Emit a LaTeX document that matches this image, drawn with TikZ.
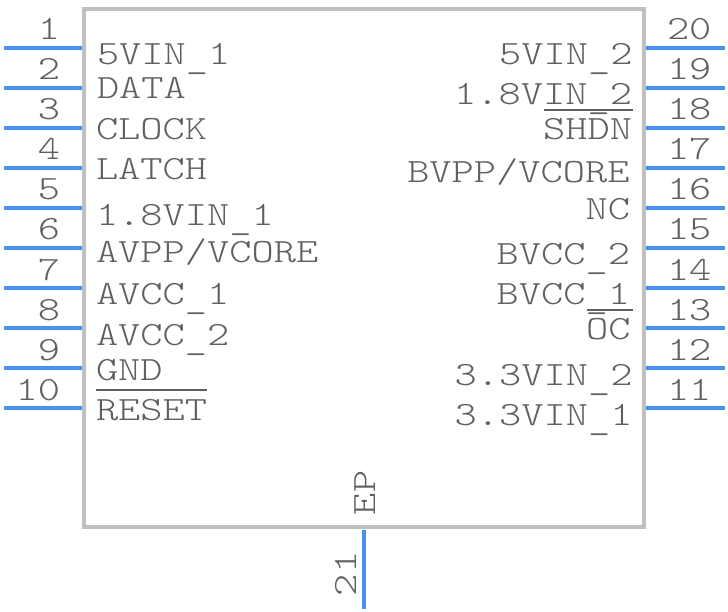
\documentclass[tikz,border=0pt]{standalone}
\usepackage{fontspec}
\newfontfamily\pinfont[FakeStretch=1.245]{Latin Modern Mono Light}
\newcommand\lowbar{\raisebox{-4pt}{\_}}
\definecolor{txtgrey}{HTML}{606060}
\definecolor{boxgrey}{HTML}{BFBFBF}
\definecolor{pinblue}{HTML}{4A90F0}
\tikzset{
  lab/.style={inner sep=0pt,outer sep=0pt,text=txtgrey,font=\pinfont\fontsize{34}{34}\selectfont},
  labl/.style={lab,anchor=base west},
  labr/.style={lab,anchor=base east},
  pinline/.style={draw=pinblue,line width=3.6pt},
  barline/.style={draw=txtgrey,line width=1.6pt},
  body/.style={draw=boxgrey,line width=4pt,fill=white,line join=miter}
}
\begin{document}
\begin{tikzpicture}[x=1pt,y=-1pt]
\useasboundingbox (0,0) rectangle (728,612);
\fill[white] (0,0) rectangle (728,612);
\draw[body] (84,9) rectangle (644,527);
% left pins
\foreach \n in {1,...,10}{
  \pgfmathsetmacro{\yy}{8+40*\n}
  \coordinate (la\n) at (3.5,\yy);
  \coordinate (lb\n) at (82,\yy);
  \draw[pinline] (la\n) -- (lb\n);
  \node[labr] (ln\n) at (60,\yy-8) {\n};
}
% right pins
\foreach \n in {11,...,20}{
  \pgfmathsetmacro{\yy}{8+40*(21-\n)}
  \coordinate (ra\n) at (646,\yy);
  \coordinate (rb\n) at (725,\yy);
  \draw[pinline] (ra\n) -- (rb\n);
  \node[labl] (rn\n) at (667,\yy-8) {\n};
}
% bottom pin
\coordinate (ba) at (364,530);
\coordinate (bb) at (364,609);
\draw[pinline] (ba) -- (bb);
\node[labl,rotate=90] (n21) at (356,596) {21};
\node[labl,rotate=90] (ep) at (375,515) {EP};
% left labels
\node[labl] (l1) at (97,65) {5VIN\lowbar1};
\node[labl] (l2) at (97,99) {DATA};
\node[labl] (l3) at (96,140) {CLOCK};
\node[labl] (l4) at (96,180) {LATCH};
\node[labl] (l5) at (96,226) {1.8VIN\lowbar1};
\node[labl] (l6) at (96,263) {AVPP/VCORE};
\node[labl] (l7) at (96,305) {AVCC\lowbar1};
\node[labl] (l8) at (96,345) {AVCC\lowbar2};
\node[labl] (l9) at (96,380) {GND};
\node[labl] (l10) at (96,420) {RESET};
% right labels
\node[labr] (r20) at (632.5,65) {5VIN\lowbar2};
\node[labr] (r19) at (632,105) {1.8VIN\lowbar2};
\node[labr] (r18) at (632,140) {SHDN};
\node[labr] (r17) at (629.5,183) {BVPP/VCORE};
\node[labr] (r16) at (630,220) {NC};
\node[labr] (r15) at (630,265) {BVCC\lowbar2};
\node[labr] (r14) at (630,305) {BVCC\lowbar1};
\node[labr] (r13) at (630.5,339) {OC};
\node[labr] (r12) at (632.5,385) {3.3VIN\lowbar2};
\node[labr] (r11) at (632.5,425) {3.3VIN\lowbar1};
% overbars
\draw[barline] (96,390) -- (207,390);
\draw[barline] (544,110) -- (633,110);
\draw[barline] (587,310) -- (633,310);
\end{tikzpicture}
\end{document}
